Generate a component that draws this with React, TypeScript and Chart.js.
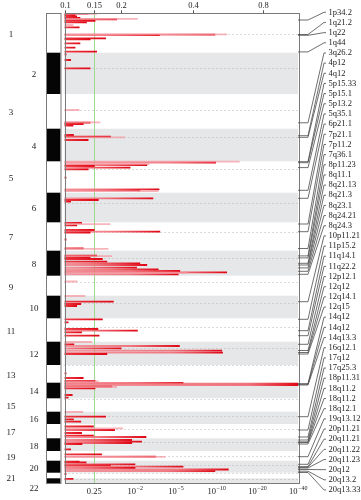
import React, { useEffect, useRef } from "react";
import { Chart, registerables } from "chart.js";

Chart.register(...registerables);

// ---- genome layout (relative chromosome lengths as drawn, centromere offsets) ----
const chromosomes = ["1","2","3","4","5","6","7","8","9","10","11","12","13","14","15","16","17","18","19","20","21","22"];
const chromLengths = [39.4, 41.3, 34.7, 32.6, 31.4, 29.6, 28.4, 25, 20, 22.6, 23.4, 23.3, 17.7, 15.6, 13.4, 12.3, 14.3, 12.7, 9.7, 12, 5.6, 5];
const centromeres = [21, 15.6, 16, 8, 7.7, 10.6, 10, 6.8, 6, 7, 9, 6.3, 0.3, 0.3, 0.3, 4, 5.3, 3.7, 5, 4.3, 0.3, 0.3];

// ---- axis ticks ----
const bottomTickValues = [1, 2, 3, 4, 5, 6];
const bottomTickLabels = ["0.25", "10^-2", "10^-5", "10^-10", "10^-20", "10^-40"];
const topTickValues = [0.29, 1.0, 1.65, 3.43, 5.13];
const topTickLabels = ["0.1", "0.15", "0.2", "0.4", "0.8"];
const thresholdValue = 1.0;
const scoreMin = 0.27;
const scoreMax = 6;

// ---- association signals: [chromosome, position within chromosome, score] ----
const strongSignals: [number, number, number][] = [
  [1, 0.2, 0.85], [1, 1.7, 0.53], [1, 3.2, 0.57], [1, 4.7, 0.65], [1, 6.0, 1.55], [1, 7.5, 1.02], [1, 9, 0.81],
  [1, 14, 0.63], [1, 21.4, 3.96], [1, 21.9, 2.6], [1, 25, 1.28], [1, 26, 0.9], [1, 30, 0.65], [1, 34.4, 0.53], [1, 38.4, 1.06],
  [2, 1.6, 0.31], [2, 7.3, 0.42], [2, 15.6, 0.9],
  [3, 28.7, 0.9], [3, 30, 0.73], [3, 31.5, 0.48],
  [4, 6.3, 0.49], [4, 8, 1.4], [4, 11.3, 0.85],
  [5, 1.2, 3.98], [5, 3.7, 2.29], [5, 4.7, 1.0], [5, 6.4, 1.88], [5, 8, 0.85], [5, 16.4, 0.31], [5, 28, 2.59], [5, 29, 2.12],
  [6, 5.6, 2.44], [6, 7.3, 1.1], [6, 9, 0.42],
  [7, 0.5, 0.69], [7, 3, 0.57], [7, 7.7, 1.0], [7, 9.4, 2.61], [7, 10.2, 0.9], [7, 17.2, 0.31], [7, 26, 0.73],
  [8, 5, 1.06], [8, 6.8, 0.9], [8, 8.3, 1.2], [8, 11, 1.31], [8, 12.6, 2.12], [8, 14.3, 2.29], [8, 17, 2.04], [8, 18.6, 2.57],
  [8, 20.3, 3.1], [8, 21.6, 4.25], [8, 23.6, 3.06],
  [10, 6, 1.47], [10, 8.3, 0.67], [10, 10.3, 0.57],
  [11, 1, 1.2], [11, 4, 0.36], [11, 10.7, 1.09], [11, 12.4, 2.06], [11, 14, 0.69], [11, 17.4, 1.12],
  [12, 2.6, 0.5], [12, 4.3, 3.09], [12, 6.6, 1.66], [12, 9, 4.13], [12, 11, 4.15], [12, 12.3, 1.31],
  [13, 8.3, 0.31], [13, 13, 0.73], [13, 16, 1.02],
  [14, 0.3, 3.18], [14, 1.0, 6.0], [14, 2.3, 6.0], [14, 4, 1.43], [14, 5.6, 1.02], [14, 12.3, 0.46], [14, 15, 0.36],
  [16, 5, 1.28], [16, 7.6, 0.49], [16, 10, 0.67],
  [17, 2.5, 0.98], [17, 6, 1.5], [17, 9, 0.69], [17, 11.7, 0.98], [17, 13, 2.27],
  [18, 1.7, 1.92], [18, 3.4, 2.16], [18, 4.7, 1.92], [18, 5.7, 0.7], [18, 11, 0.42],
  [19, 3.3, 1.18], [19, 5.7, 2.5],
  [20, 1, 0.63], [20, 1.8, 0.8], [20, 3.6, 2.0], [20, 4.8, 1.4], [20, 6, 3.18], [20, 7.3, 2.0], [20, 8.8, 4.29], [20, 10.5, 3.96],
  [21, 1.3, 0.31],
  [22, 0.5, 0.48],
];

const weakSignals: [number, number, number][] = [
  [1, 0.6, 1.06], [1, 5.6, 2.06], [1, 11.7, 0.48], [1, 21.0, 4.25],
  [3, 16, 0.63], [3, 28.4, 1.14],
  [4, 8.6, 1.75],
  [5, 0.4, 4.56], [5, 2.9, 2.35], [5, 29.8, 2.57],
  [7, 1.9, 1.39], [7, 26.5, 1.34],
  [8, 5.5, 1.43], [8, 22.2, 3.3],
  [9, 5.8, 0.58],
  [10, 0.3, 0.77],
  [12, 0.3, 0.94],
  [13, 16.3, 1.1],
  [14, 4.3, 1.55],
  [16, 0.3, 0.72],
  [17, 4.3, 1.7],
  [19, 5.9, 2.74],
];

// ---- annotated loci ----
const locusNames = ["1p34.2","1q21.2","1q22","1q44","3q26.2","4p12","4q12","5p15.33","5p15.1","5p13.2","5q35.1","6p21.1",
  "7p21.1","7p11.2","7q36.1","8p11.23","8q11.1","8q21.13","8q21.3","8q23.1","8q24.21","8q24.3","10p11.21","11p15.2",
  "11q14.1","11q22.2","12p12.1","12q12","12q14.1","12q15","14q12","14q12","14q13.3","16q12.1","17q12","17q25.3",
  "18p11.31","18q11.2","18q11.2","18q12.1","19q13.12","20p11.21","20q11.21","20q11.22","20q11.23","20q12","20q13.2","20q13.33"];
const locusChrom = [1,1,1,1,3,4,4,5,5,5,5,6,7,7,7,8,8,8,8,8,8,8,10,11,11,11,12,12,12,12,14,14,14,16,17,17,18,18,18,18,19,20,20,20,20,20,20,20];
const locusPos = [6.7,21.2,22.0,38.6,28.8,7.0,8.6,0.4,1.4,6.3,29.0,5.6,1.7,9.4,26.2,5.2,7.2,12.6,14.3,17.2,20.6,23.6,6.0,1.0,
  12.4,17.4,2.6,8.8,10.8,12.3,1.0,1.6,2.3,5.0,6.0,13.0,1.7,3.6,4.2,5.7,5.7,3.6,6.0,6.6,7.3,8.8,10.5,11.8];

const chromStarts: number[] = [];
chromLengths.reduce((acc, len) => { chromStarts.push(acc); return acc + len; }, 0);
const genomeLength = chromLengths.reduce((a, b) => a + b, 0);

const FONT = '"Liberation Serif", "Times New Roman", serif';

const toPoint = (s: [number, number, number]) => ({ x: s[2], y: chromStarts[s[0] - 1] + s[1] });

const genomePlugin = {
  id: "genomeDecor",
  beforeDatasetsDraw(chart: any) {
    const { ctx, chartArea: a, scales } = chart;
    const x = scales.x, y = scales.y;
    ctx.save();
    chromLengths.forEach((len, i) => {
      if (i % 2 === 1) {
        const y0 = y.getPixelForValue(chromStarts[i]);
        const y1 = y.getPixelForValue(chromStarts[i] + len);
        ctx.fillStyle = "#e6e7e9";
        ctx.fillRect(a.left, y0, a.right - a.left, y1 - y0);
      }
    });
    ctx.strokeStyle = "#b4b4b4";
    ctx.lineWidth = 1;
    ctx.setLineDash([1, 3]);
    centromeres.forEach((c, i) => {
      const yy = Math.round(y.getPixelForValue(chromStarts[i] + c)) + 0.5;
      ctx.beginPath();
      ctx.moveTo(a.left, yy);
      ctx.lineTo(a.right, yy);
      ctx.stroke();
    });
    ctx.setLineDash([]);
    const gx = Math.round(x.getPixelForValue(thresholdValue)) + 0.5;
    ctx.strokeStyle = "#9fd98f";
    ctx.beginPath();
    ctx.moveTo(gx, a.top);
    ctx.lineTo(gx, a.bottom);
    ctx.stroke();
    ctx.restore();
  },
  afterDraw(chart: any) {
    const { ctx, chartArea: a, scales } = chart;
    const x = scales.x, y = scales.y;
    ctx.save();
    // frame
    ctx.strokeStyle = "#7a7a7a";
    ctx.lineWidth = 1;
    ctx.strokeRect(Math.round(a.left) + 0.5, Math.round(a.top) + 0.5, Math.round(a.right - a.left), Math.round(a.bottom - a.top));

    // ideogram
    const ix0 = 46, ix1 = 60.5;
    chromLengths.forEach((len, i) => {
      const y0 = y.getPixelForValue(chromStarts[i]);
      const y1 = y.getPixelForValue(chromStarts[i] + len);
      if (i % 2 === 1) {
        ctx.fillStyle = "#050505";
        ctx.fillRect(ix0, y0, ix1 - ix0, y1 - y0);
      }
    });
    ctx.strokeStyle = "#7a7a7a";
    ctx.strokeRect(ix0 + 0.5, Math.round(a.top) + 0.5, ix1 - ix0, Math.round(a.bottom - a.top));

    // chromosome labels
    ctx.fillStyle = "#222";
    ctx.font = `9px ${FONT}`;
    ctx.textAlign = "center";
    ctx.textBaseline = "middle";
    let prevY = -100;
    chromosomes.forEach((name, i) => {
      let my = y.getPixelForValue(chromStarts[i] + chromLengths[i] / 2) + 1.5;
      if (my < prevY + 10) my = prevY + 10;
      prevY = my;
      ctx.fillText(name, i % 2 === 0 ? 11 : 34, my);
    });

    // top axis
    ctx.font = `8.5px ${FONT}`;
    ctx.strokeStyle = "#555";
    topTickValues.forEach((v, i) => {
      const px = Math.round(x.getPixelForValue(v)) + 0.5;
      ctx.beginPath();
      ctx.moveTo(px, a.top);
      ctx.lineTo(px, a.top - 3);
      ctx.stroke();
      ctx.fillText(topTickLabels[i], px, 5.5);
    });

    // bottom axis
    bottomTickValues.forEach((v, i) => {
      const px = x.getPixelForValue(v);
      const lab = bottomTickLabels[i];
      const by = 492;
      if (lab.includes("^")) {
        const [base, exp] = lab.split("^");
        const expText = exp.replace("-", "\u2212");
        ctx.font = `8.5px ${FONT}`;
        const wb = ctx.measureText(base).width;
        ctx.font = `6px ${FONT}`;
        const we = ctx.measureText(expText).width;
        const start = px - (wb + we) / 2;
        ctx.textAlign = "left";
        ctx.font = `8.5px ${FONT}`;
        ctx.fillText(base, start, by);
        ctx.font = `6px ${FONT}`;
        ctx.fillText(expText, start + wb + 0.5, by - 4);
        ctx.textAlign = "center";
      } else {
        ctx.font = `8.5px ${FONT}`;
        ctx.fillText(lab, px, by);
      }
    });

    // locus connectors and labels
    ctx.strokeStyle = "#4a4a4a";
    ctx.lineWidth = 0.8;
    ctx.font = `8.5px ${FONT}`;
    ctx.textAlign = "left";
    ctx.fillStyle = "#222";
    const n = locusNames.length;
    const firstY = 12.3, lastY = 490;
    const step = (lastY - firstY) / (n - 1);
    locusNames.forEach((name, i) => {
      const ly = y.getPixelForValue(chromStarts[locusChrom[i] - 1] + locusPos[i]);
      const ty = firstY + i * step;
      ctx.beginPath();
      ctx.moveTo(a.right, ly);
      ctx.lineTo(a.right + 10, ly);
      ctx.lineTo(a.right + 26, ty);
      ctx.lineTo(a.right + 28, ty);
      ctx.stroke();
      ctx.fillText(name, a.right + 30.5, ty);
    });
    ctx.restore();
  },
};

function strongColor(ctx: any) {
  const chart = ctx.chart;
  const xs = chart.scales && chart.scales.x;
  const raw = ctx.raw;
  if (!xs || !raw || !chart.chartArea) return "rgba(230,20,30,0.85)";
  const x0 = chart.chartArea.left;
  const x1 = xs.getPixelForValue(raw.x);
  const len = Math.max(1, x1 - x0);
  const g = chart.ctx.createLinearGradient(x0, 0, x0 + len, 0);
  const t = Math.max(0, 1 - 50 / len);
  g.addColorStop(0, t > 0 ? "rgba(244,125,135,0.75)" : "rgba(234,40,50,0.9)");
  if (t > 0) g.addColorStop(t, "rgba(241,100,110,0.85)");
  g.addColorStop(1, "rgba(224,6,20,1)");
  return g;
}

export default function App() {
  const ref = useRef<HTMLCanvasElement>(null);
  useEffect(() => {
    const canvas = ref.current;
    if (!canvas) return;
    const chart = new Chart(canvas, {
      type: "bar",
      data: {
        datasets: [
          {
            label: "suggestive",
            data: weakSignals.map(toPoint),
            backgroundColor: "rgba(243,150,158,0.7)",
            borderWidth: 0,
            barThickness: 1.1,
            grouped: false,
          } as any,
          {
            label: "significant",
            data: strongSignals.map(toPoint),
            backgroundColor: strongColor,
            borderWidth: 0,
            barThickness: 1.1,
            grouped: false,
          } as any,
        ],
      },
      plugins: [genomePlugin],
      options: {
        indexAxis: "y",
        responsive: false,
        devicePixelRatio: 1,
        animation: false,
        layout: { padding: { left: 64.5, right: 63, top: 13.3, bottom: 16.7 } },
        plugins: { legend: { display: false }, tooltip: { enabled: false } },
        scales: {
          x: { type: "linear", min: scoreMin, max: scoreMax, display: false, offset: false },
          y: { type: "linear", min: 0, max: genomeLength, reverse: true, display: false, offset: false },
        },
      } as any,
    });
    return () => chart.destroy();
  }, []);
  return (
    <div style={{ position: "absolute", left: 0, top: 0, width: 361, height: 500, background: "#fff" }}>
      <canvas ref={ref} width={361} height={500} style={{ display: "block", width: 361, height: 500 }} />
    </div>
  );
}
